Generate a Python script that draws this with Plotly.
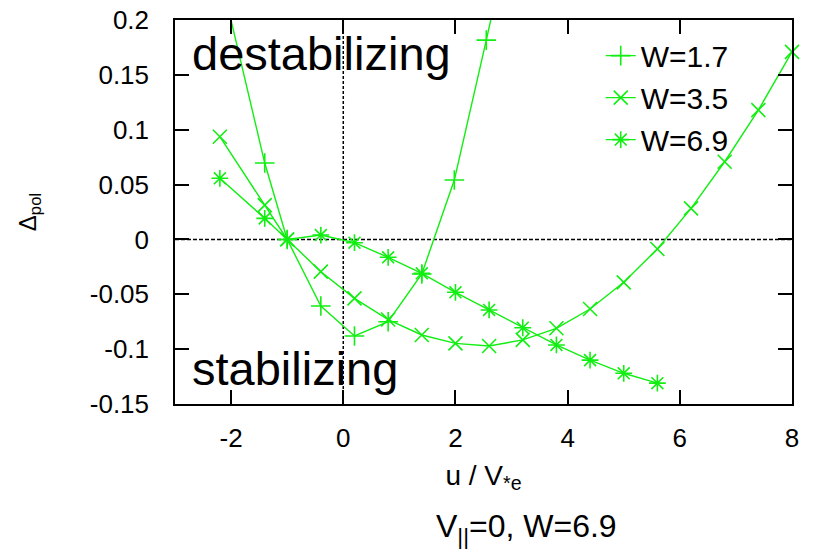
import plotly.graph_objects as go

# ---- data ----
u_w17 = [-2.2, -1.4, -1.0, -0.4, 0.2, 0.8, 1.4, 1.98, 2.55, 3.15]
d_w17 = [0.243, 0.0696, 0.0, -0.0607, -0.088, -0.075, -0.0315, 0.0541, 0.1817, 0.32]

u_w35 = [-2.2, -1.4, -1.0, -0.4, 0.2, 0.8, 1.4, 2.0, 2.6, 3.2, 3.8, 4.4, 5.0, 5.6, 6.2, 6.8, 7.4, 8.0]
d_w35 = [0.0936, 0.0313, 0.0, -0.0294, -0.0537, -0.073, -0.0871, -0.0947, -0.0971, -0.0916,
         -0.081, -0.0634, -0.0391, -0.0087, 0.0283, 0.0708, 0.1179, 0.171]

u_w69 = [-2.2, -1.4, -1.0, -0.4, 0.2, 0.8, 1.4, 2.0, 2.6, 3.2, 3.8, 4.4, 5.0, 5.6]
d_w69 = [0.0557, 0.0192, 0.0, 0.004, -0.003, -0.0163, -0.0309, -0.0482, -0.0643, -0.0805,
         -0.0962, -0.110, -0.122, -0.131]

series_names = ["W=1.7", "W=3.5", "W=6.9"]
series_symbols = ["cross-thin", "x-thin", "asterisk"]

x_tickvals = [-2, 0, 2, 4, 6, 8]
x_ticktext = ["-2", "0", "2", "4", "6", "8"]
y_tickvals = [-0.15, -0.1, -0.05, 0, 0.05, 0.1, 0.15, 0.2]
y_ticktext = ["-0.15", "-0.1", "-0.05", "0", "0.05", "0.1", "0.15", "0.2"]

FONT = "Liberation Sans, Arial, Helvetica, sans-serif"
GREEN = "#11ee11"

fig = go.Figure()
for u, d, name, sym in zip([u_w17, u_w35, u_w69], [d_w17, d_w35, d_w69], series_names, series_symbols):
    fig.add_trace(go.Scatter(
        x=u, y=d, name=name, mode="lines+markers",
        line=dict(color=GREEN, width=1.4),
        marker=dict(symbol=sym, size=14, color=GREEN, line=dict(color=GREEN, width=1.6)),
        cliponaxis=(name != "W=3.5"),
    ))

axis_common = dict(
    showline=True, linecolor="black", linewidth=1.5, mirror="ticks",
    ticks="inside", ticklen=14, tickwidth=1.5, tickcolor="black",
    showgrid=False, zeroline=False, automargin=False,
    ticklabeloverflow="allow",
    tickfont=dict(family=FONT, size=26, color="black"),
)

fig.update_layout(
    width=797, height=542,
    margin=dict(l=167, r=13, t=12, b=146, autoexpand=False),
    paper_bgcolor="white", plot_bgcolor="white",
    font=dict(family=FONT, color="black"),
    xaxis=dict(range=[-3, 8], tickvals=x_tickvals, ticktext=x_ticktext,
               ticklabelstandoff=10,
               title=dict(text="u / V<sub>*e</sub>", font=dict(family=FONT, size=28), standoff=13),
               **axis_common),
    yaxis=dict(range=[-0.15, 0.2], tickvals=y_tickvals, ticktext=y_ticktext,
               ticklabelstandoff=19,
               title=dict(text="Δ<sub>pol</sub>", font=dict(family=FONT, size=24), standoff=46),
               **axis_common),
    legend=dict(x=0.69, y=0.975, xanchor="left", yanchor="top",
                bgcolor="rgba(0,0,0,0)", font=dict(family=FONT, size=30, color="black")),
    shapes=[
        dict(type="line", xref="paper", x0=0, x1=1, yref="y", y0=0, y1=0,
             line=dict(color="black", width=1.5, dash="4px,2px"), layer="below"),
        dict(type="line", xref="x", x0=0, x1=0, yref="paper", y0=0, y1=1,
             line=dict(color="black", width=1.5, dash="3px,2px"), layer="below"),
    ],
    annotations=[
        dict(text="destabilizing", xref="paper", yref="paper", x=0.025, y=0.912,
             xanchor="left", yanchor="middle", showarrow=False,
             font=dict(family=FONT, size=47, color="black")),
        dict(text="stabilizing", xref="paper", yref="paper", x=0.025, y=0.093,
             xanchor="left", yanchor="middle", showarrow=False,
             font=dict(family=FONT, size=47, color="black")),
        dict(text="V<sub>||</sub>=0, W=6.9", xref="paper", yref="paper", x=0.569, y=-0.325,
             xanchor="center", yanchor="middle", showarrow=False,
             font=dict(family=FONT, size=32, color="black")),
    ],
)

fig.write_html("out.html")
